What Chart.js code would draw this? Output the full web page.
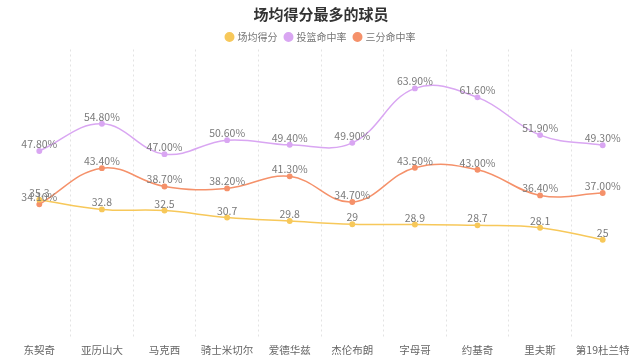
<!DOCTYPE html>
<html>
<head>
<meta charset="utf-8">
<script src="https://cdn.jsdelivr.net/npm/chart.js@4/dist/chart.umd.min.js"></script>
<style>
html,body{margin:0;padding:0;background:#fff;}
#wrap{width:640px;height:362px;position:relative;}
</style>
</head>
<body>
<div id="wrap"><canvas id="c"></canvas></div>
<script>
const categories = ['东契奇','亚历山大','马克西','骑士米切尔','爱德华兹','杰伦布朗','字母哥','约基奇','里夫斯','第19杜兰特'];
const scoreValues = [35.3, 32.8, 32.5, 30.7, 29.8, 29, 28.9, 28.7, 28.1, 25];
const fgValues = [47.8, 54.8, 47.0, 50.6, 49.4, 49.9, 63.9, 61.6, 51.9, 49.3];
const threeValues = [34.1, 43.4, 38.7, 38.2, 41.3, 34.7, 43.5, 43.0, 36.4, 37.0];
const seriesNames = ['场均得分','投篮命中率','三分命中率'];

const FONT = '"Noto Sans CJK SC", "Noto Sans", sans-serif';
const colors = ['#f7c85a','#d9a6f2','#f5916a'];

const labelPlugin = {
  id: 'valueLabels',
  afterInit(chart) {
    const lg = chart.legend;
    if (lg && !lg._patched) {
      const orig = lg.fit;
      lg.fit = function () { orig.call(this); this.height = Math.max(0, this.height - 2.5); };
      lg._patched = true;
    }
  },
  afterDatasetsDraw(chart) {
    const ctx = chart.ctx;
    ctx.save();
    ctx.font = '10.5px ' + FONT;
    ctx.fillStyle = '#7a7a7a';
    ctx.textAlign = 'center';
    ctx.textBaseline = 'middle';
    chart.data.datasets.forEach((ds, di) => {
      const meta = chart.getDatasetMeta(di);
      meta.data.forEach((pt, i) => {
        const v = ds.data[i];
        const txt = di === 0 ? String(v) : v.toFixed(2) + '%';
        ctx.fillText(txt, pt.x, pt.y - 7);
      });
    });
    ctx.restore();
  }
};

const mk = (label, data, color) => ({
  label, data,
  borderColor: color,
  backgroundColor: color,
  pointBackgroundColor: color,
  pointBorderColor: color,
  pointRadius: 2.2,
  pointHoverRadius: 3,
  borderWidth: 1.5,
  tension: 0.4,
  fill: false
});

new Chart(document.getElementById('c'), {
  type: 'line',
  data: {
    labels: categories,
    datasets: [
      mk(seriesNames[0], scoreValues, colors[0]),
      mk(seriesNames[1], fgValues, colors[1]),
      mk(seriesNames[2], threeValues, colors[2])
    ]
  },
  options: {
    responsive: true,
    maintainAspectRatio: false,
    animation: false,
    layout: { padding: { left: 8, right: 6, top: 5, bottom: 0 } },
    plugins: {
      title: {
        display: true,
        text: '场均得分最多的球员',
        color: '#333',
        font: { family: FONT, size: 15, weight: 'bold' },
        padding: { top: 0, bottom: 1 }
      },
      legend: {
        display: true,
        labels: {
          usePointStyle: true,
          pointStyle: 'circle',
          boxWidth: 6,
          boxHeight: 6,
          padding: 8,
          color: '#777',
          font: { family: FONT, size: 10 }
        }
      },
      tooltip: { enabled: false }
    },
    scales: {
      x: {
        offset: true,
        afterFit(scale) { scale.height = 25; },
        grid: {
          offset: true,
          drawTicks: false,
          lineWidth: 1,
          color: (c) => (c.type !== 'tick' || c.index === 0) ? 'rgba(0,0,0,0)' : '#e3e3e3'
        },
        border: { display: false, dash: [2, 3] },
        ticks: {
          color: '#666',
          padding: 7,
          font: { family: FONT, size: 10.5 },
          maxRotation: 0,
          autoSkip: false
        }
      },
      y: {
        display: false,
        min: 0,
        max: 73.9
      }
    }
  },
  plugins: [labelPlugin]
});
</script>
</body>
</html>
